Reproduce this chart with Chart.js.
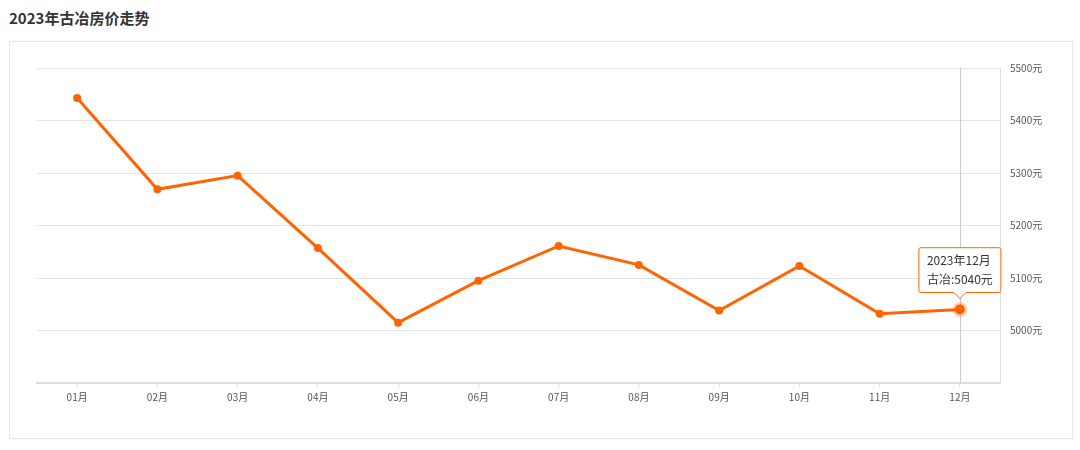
<!DOCTYPE html>
<html>
<head>
<meta charset="utf-8">
<script src="https://cdn.jsdelivr.net/npm/chart.js@4"></script>
<style>
  body { margin: 0; background: #fff; font-family: "Noto Sans CJK SC", sans-serif; }
  #title { position: absolute; left: 9px; top: 7px; font-size: 15px; font-weight: bold; color: #333; }
  #box { position: absolute; left: 9px; top: 41px; width: 1062px; height: 396px; border: 1px solid #e6e6e6; }
  #wrap { position: absolute; left: 0; top: 0; width: 1080px; height: 450px; }
</style>
</head>
<body>
<div id="title">2023年古冶房价走势</div>
<div id="box"></div>
<div id="wrap"><canvas id="myChart"></canvas></div>
<script>
const year = '2023';
const area = '古冶';
const months = ['01月', '02月', '03月', '04月', '05月', '06月', '07月', '08月', '09月', '10月', '11月', '12月'];
const prices = [5443, 5269, 5295, 5157, 5015, 5095, 5161, 5125, 5038, 5123, 5032, 5040];
const yTicks = [4900, 5000, 5100, 5200, 5300, 5400, 5500];

const orange = '#ff6400';

// vertical guide line through the active point
const crosshair = {
  id: 'crosshair',
  beforeDatasetsDraw(chart) {
    const act = chart.tooltip.getActiveElements();
    if (!act.length) return;
    const x = act[0].element.x;
    const a = chart.chartArea;
    const c = chart.ctx;
    c.save();
    c.strokeStyle = '#cccccc';
    c.lineWidth = 1;
    c.beginPath();
    c.moveTo(Math.round(x) + 0.5, a.top);
    c.lineTo(Math.round(x) + 0.5, a.bottom);
    c.stroke();
    c.restore();
  }
};

const ctx = document.getElementById('myChart');
const myChart = new Chart(ctx, {
  type: 'line',
  data: {
    labels: months,
    datasets: [{
      label: area,
      data: prices,
      borderColor: orange,
      backgroundColor: orange,
      borderWidth: 3,
      pointRadius: 4,
      pointBackgroundColor: orange,
      pointBorderWidth: 0,
      pointHoverRadius: 5,
      pointHoverBorderWidth: 5,
      pointHoverBorderColor: 'rgba(255,100,0,0.3)',
      pointHoverBackgroundColor: orange,
      tension: 0
    }]
  },
  options: {
    responsive: true,
    maintainAspectRatio: false,
    animation: false,
    events: [],
    layout: { padding: { left: 37, top: 68, right: 0, bottom: 0 } },
    plugins: {
      legend: { display: false },
      tooltip: {
        backgroundColor: '#fff',
        borderColor: orange,
        borderWidth: 1,
        titleColor: '#333',
        bodyColor: '#333',
        titleFont: { family: 'Noto Sans CJK SC', size: 12, weight: 'normal' },
        bodyFont: { family: 'Noto Sans CJK SC', size: 12 },
        titleMarginBottom: 4,
        bodyAlign: 'right',
        padding: { top: 6, bottom: 6, left: 8, right: 8 },
        cornerRadius: 2,
        caretSize: 6,
        caretPadding: 11,
        displayColors: false,
        xAlign: 'center',
        yAlign: 'bottom',
        callbacks: {
          title: items => year + '年' + Number(items[0].label.slice(0, 2)) + '月',
          label: item => area + ':' + item.parsed.y + '元'
        }
      }
    },
    scales: {
      x: {
        offset: true,
        grid: { display: true, drawOnChartArea: false, drawTicks: true, tickLength: 4, color: '#dddddd' },
        border: { color: '#dddddd', width: 2 },
        ticks: { color: '#555', font: { family: 'Noto Sans CJK SC', size: 10 }, padding: 4 },
        afterFit(s) { s.height = 450 - 383; }
      },
      y: {
        position: 'right',
        min: 4900,
        max: 5500,
        afterBuildTicks(s) { s.ticks = yTicks.map(v => ({ value: v })); },
        grid: { color: '#e3e3e3', drawTicks: false },
        border: { color: '#dddddd', width: 1 },
        ticks: {
          color: '#555',
          font: { family: 'Noto Sans CJK SC', size: 10 },
          padding: 10,
          callback: v => v === 4900 ? '' : v + '元'
        },
        afterFit(s) { s.width = 1080 - 1000; }
      }
    }
  },
  plugins: [crosshair]
});

const last = prices.length - 1;
const pt = myChart.getDatasetMeta(0).data[last];
myChart.setActiveElements([{ datasetIndex: 0, index: last }]);
myChart.tooltip.setActiveElements([{ datasetIndex: 0, index: last }], { x: pt.x, y: pt.y });
myChart.update();
</script>
</body>
</html>
